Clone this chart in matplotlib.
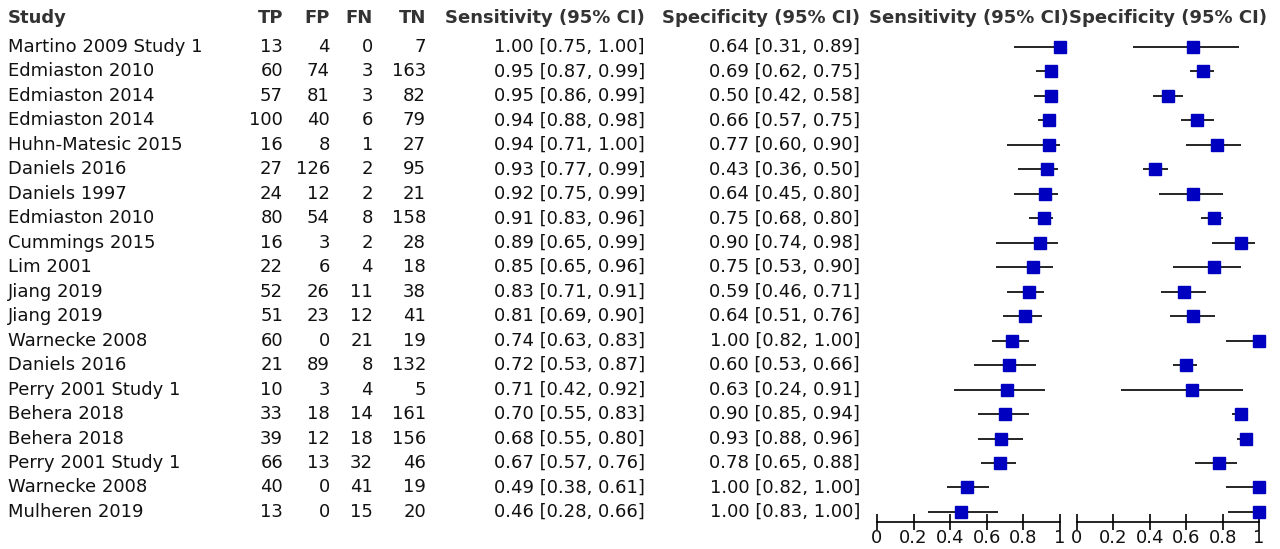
import matplotlib
matplotlib.use("Agg")
import matplotlib.pyplot as plt

studies = ["Martino 2009 Study 1", "Edmiaston 2010", "Edmiaston 2014", "Edmiaston 2014",
           "Huhn-Matesic 2015", "Daniels 2016", "Daniels 1997", "Edmiaston 2010",
           "Cummings 2015", "Lim 2001", "Jiang 2019", "Jiang 2019", "Warnecke 2008",
           "Daniels 2016", "Perry 2001 Study 1", "Behera 2018", "Behera 2018",
           "Perry 2001 Study 1", "Warnecke 2008", "Mulheren 2019"]
tp = [13, 60, 57, 100, 16, 27, 24, 80, 16, 22, 52, 51, 60, 21, 10, 33, 39, 66, 40, 13]
fp = [4, 74, 81, 40, 8, 126, 12, 54, 3, 6, 26, 23, 0, 89, 3, 18, 12, 13, 0, 0]
fn = [0, 3, 3, 6, 1, 2, 2, 8, 2, 4, 11, 12, 21, 8, 4, 14, 18, 32, 41, 15]
tn = [7, 163, 82, 79, 27, 95, 21, 158, 28, 18, 38, 41, 19, 132, 5, 161, 156, 46, 19, 20]
sens = [1.00, 0.95, 0.95, 0.94, 0.94, 0.93, 0.92, 0.91, 0.89, 0.85, 0.83, 0.81, 0.74, 0.72, 0.71, 0.70, 0.68, 0.67, 0.49, 0.46]
sens_lo = [0.75, 0.87, 0.86, 0.88, 0.71, 0.77, 0.75, 0.83, 0.65, 0.65, 0.71, 0.69, 0.63, 0.53, 0.42, 0.55, 0.55, 0.57, 0.38, 0.28]
sens_hi = [1.00, 0.99, 0.99, 0.98, 1.00, 0.99, 0.99, 0.96, 0.99, 0.96, 0.91, 0.90, 0.83, 0.87, 0.92, 0.83, 0.80, 0.76, 0.61, 0.66]
spec = [0.64, 0.69, 0.50, 0.66, 0.77, 0.43, 0.64, 0.75, 0.90, 0.75, 0.59, 0.64, 1.00, 0.60, 0.63, 0.90, 0.93, 0.78, 1.00, 1.00]
spec_lo = [0.31, 0.62, 0.42, 0.57, 0.60, 0.36, 0.45, 0.68, 0.74, 0.53, 0.46, 0.51, 0.82, 0.53, 0.24, 0.85, 0.88, 0.65, 0.82, 0.83]
spec_hi = [0.89, 0.75, 0.58, 0.75, 0.90, 0.50, 0.80, 0.80, 0.98, 0.90, 0.71, 0.76, 1.00, 0.66, 0.91, 0.94, 0.96, 0.88, 1.00, 1.00]
headers = ["Study", "TP", "FP", "FN", "TN", "Sensitivity (95% CI)", "Specificity (95% CI)"]
axis_ticks = [0, 0.2, 0.4, 0.6, 0.8, 1]
axis_ticklabels = ["0", "0.2", "0.4", "0.6", "0.8", "1"]

W, H = 1280, 549
fig = plt.figure(figsize=(W / 100, H / 100), dpi=100)
ax0 = fig.add_axes([0, 0, 1, 1])
ax0.set_xlim(0, W)
ax0.set_ylim(H, 0)
ax0.axis("off")

FS = 13
TXT = "#111111"
row0, dy = 47, 24.47
hy = 18
ax0.text(8, hy, headers[0], fontsize=FS, fontweight="bold", va="center", ha="left", color="#333333")
for x, h in zip([283, 330, 373, 426, 645, 860], headers[1:]):
    ax0.text(x, hy, h, fontsize=FS, fontweight="bold", va="center", ha="right", color="#333333")

n = len(studies)
for i in range(n):
    y = row0 + dy * i
    ax0.text(8, y, studies[i], fontsize=FS, va="center", ha="left", color=TXT)
    for x, v in zip([283, 330, 373, 426], [tp[i], fp[i], fn[i], tn[i]]):
        ax0.text(x, y, str(v), fontsize=FS, va="center", ha="right", color=TXT)
    ax0.text(645, y, f"{sens[i]:.2f} [{sens_lo[i]:.2f}, {sens_hi[i]:.2f}]", fontsize=FS, va="center", ha="right", color=TXT)
    ax0.text(860, y, f"{spec[i]:.2f} [{spec_lo[i]:.2f}, {spec_hi[i]:.2f}]", fontsize=FS, va="center", ha="right", color=TXT)

axis_y = 521.7
top_y = row0 - dy
ymax_r = (axis_y - row0) / dy
for (x0, x1, est, lo, hi, title) in [
        (877, 1060, sens, sens_lo, sens_hi, headers[5]),
        (1077, 1259, spec, spec_lo, spec_hi, headers[6])]:
    ax = fig.add_axes([x0 / W, 1 - axis_y / H, (x1 - x0) / W, (axis_y - top_y) / H])
    ax.set_xlim(0, 1)
    ax.set_ylim(ymax_r, -1)
    ax.patch.set_visible(False)
    for s in ["top", "right", "left"]:
        ax.spines[s].set_visible(False)
    ax.spines["bottom"].set_linewidth(1.2)
    ax.set_yticks([])
    ax.set_xticks(axis_ticks)
    ax.set_xticklabels(axis_ticklabels, fontsize=FS, color=TXT)
    ax.tick_params(axis="x", direction="inout", length=11, width=1.2, pad=0)
    rows = list(range(n))
    ax.hlines(rows, lo, hi, color="black", linewidth=1.2, clip_on=False)
    ax.plot(est, rows, linestyle="none", marker="s", markersize=8,
            color="#0000c0", clip_on=False)
    ax0.text((x0 + x1) / 2, hy, title, fontsize=FS, fontweight="bold", va="center", ha="center", color="#333333")

fig.savefig("out.png", dpi=100)
